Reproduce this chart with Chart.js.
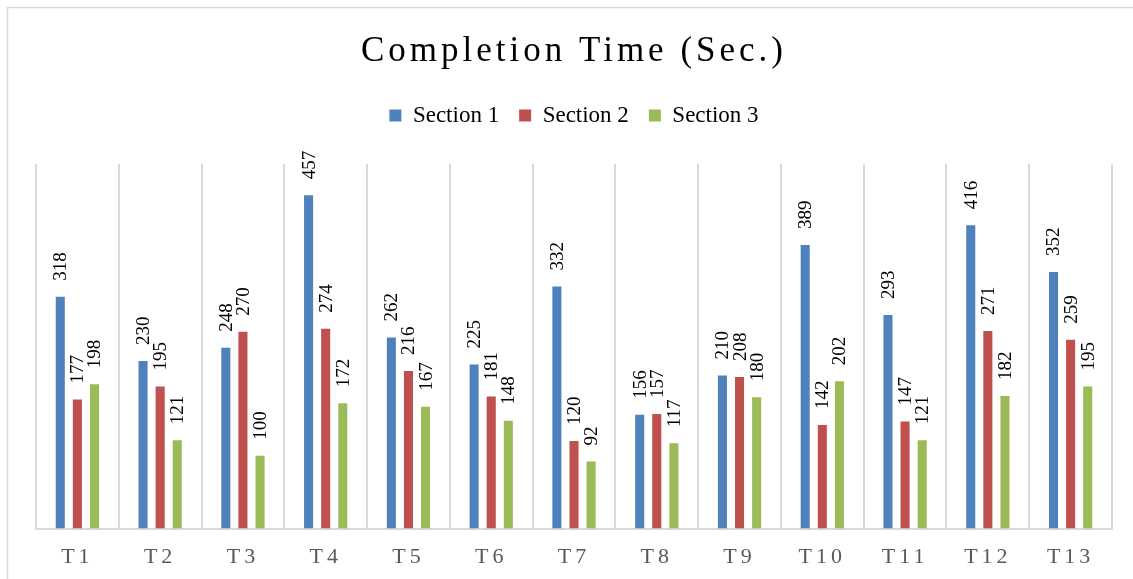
<!DOCTYPE html>
<html>
<head>
<meta charset="utf-8">
<script src="https://cdn.jsdelivr.net/npm/chart.js@4/dist/chart.umd.min.js"></script>
<style>
  html, body { margin: 0; padding: 0; background: #fff; }
  #wrap { width: 1133px; height: 579px; position: relative; }
</style>
</head>
<body>
<div id="wrap"><canvas id="grafico"></canvas></div>
<script>
const categorias = ["T1", "T2", "T3", "T4", "T5", "T6", "T7", "T8", "T9", "T10", "T11", "T12", "T13"];
const seccion1 = [318, 230, 248, 457, 262, 225, 332, 156, 210, 389, 293, 416, 352];
const seccion2 = [177, 195, 270, 274, 216, 181, 120, 157, 208, 142, 147, 271, 259];
const seccion3 = [198, 121, 100, 172, 167, 148, 92, 117, 180, 202, 121, 182, 195];

const serif = "'Liberation Serif', 'Times New Roman', serif";

// fondo y marco
const marco = {
    id: 'marco',
    beforeDraw(chart) {
        const ctx = chart.ctx;
        ctx.save();
        ctx.fillStyle = '#fff';
        ctx.fillRect(0, 0, chart.width, chart.height);
        ctx.strokeStyle = '#d9d9d9';
        ctx.lineWidth = 1.5;
        ctx.strokeRect(7.5, 7.5, chart.width + 20, chart.height + 20);
        ctx.restore();
    }
};

// espacio extra debajo de la leyenda
const margenLeyenda = {
    id: 'margenLeyenda',
    beforeInit(chart) {
        const fit = chart.legend.fit;
        chart.legend.fit = function () {
            fit.bind(chart.legend)();
            this.height += 27;
        };
    }
};

// espaciado de letras en titulo y etiquetas del eje x
const espaciado = {
    id: 'espaciado',
    afterLayout(chart) {
        const s = chart.scales.x;
        if (!s._espaciado) {
            const orig = s.drawLabels.bind(s);
            s.drawLabels = function (area) {
                chart.ctx.save();
                chart.ctx.letterSpacing = '4px';
                orig(area);
                chart.ctx.restore();
            };
            s._espaciado = true;
        }
        const t = chart.titleBlock;
        if (t && !t._espaciado) {
            const origT = t.draw.bind(t);
            t.draw = function () {
                chart.ctx.save();
                chart.ctx.letterSpacing = '4px';
                origT();
                chart.ctx.restore();
            };
            t._espaciado = true;
        }
    }
};

// valores rotados encima de cada barra
const etiquetas = {
    id: 'etiquetas',
    afterDatasetsDraw(chart) {
        const ctx = chart.ctx;
        ctx.save();
        ctx.font = "19px " + serif;
        ctx.fillStyle = '#000';
        ctx.textAlign = 'left';
        ctx.textBaseline = 'middle';
        chart.data.datasets.forEach((ds, i) => {
            chart.getDatasetMeta(i).data.forEach((bar, j) => {
                ctx.save();
                ctx.translate(bar.x + 1, bar.y - 16);
                ctx.rotate(-Math.PI / 2);
                ctx.fillText(String(ds.data[j]), 0, 0);
                ctx.restore();
            });
        });
        ctx.restore();
    }
};

new Chart(document.getElementById('grafico'), {
    type: 'bar',
    data: {
        labels: categorias,
        datasets: [
            { label: 'Section 1', data: seccion1, backgroundColor: '#4F81BD' },
            { label: 'Section 2', data: seccion2, backgroundColor: '#C0504D' },
            { label: 'Section 3', data: seccion3, backgroundColor: '#9BBB59' }
        ]
    },
    options: {
        responsive: true,
        maintainAspectRatio: false,
        animation: false,
        categoryPercentage: 0.62,
        barPercentage: 0.53,
        layout: { padding: { left: 36, right: 21, top: 0, bottom: -6 } },
        plugins: {
            title: {
                display: true,
                text: 'Completion Time (Sec.)',
                color: '#000',
                font: { family: serif, size: 35, weight: 'normal' },
                padding: { top: 31, bottom: 11 }
            },
            legend: {
                position: 'top',
                labels: {
                    color: '#000',
                    font: { family: serif, size: 23 },
                    boxWidth: 12,
                    boxHeight: 12,
                    padding: 20
                }
            },
            tooltip: { enabled: false }
        },
        scales: {
            x: {
                grid: {
                    offset: true,
                    color: '#d9d9d9',
                    lineWidth: 2,
                    drawTicks: false
                },
                border: { color: '#d9d9d9', width: 2 },
                ticks: {
                    color: '#595959',
                    font: { family: serif, size: 22 },
                    padding: 15
                }
            },
            y: {
                display: false,
                min: 0,
                max: 500
            }
        }
    },
    plugins: [marco, margenLeyenda, espaciado, etiquetas]
});
</script>
</body>
</html>
